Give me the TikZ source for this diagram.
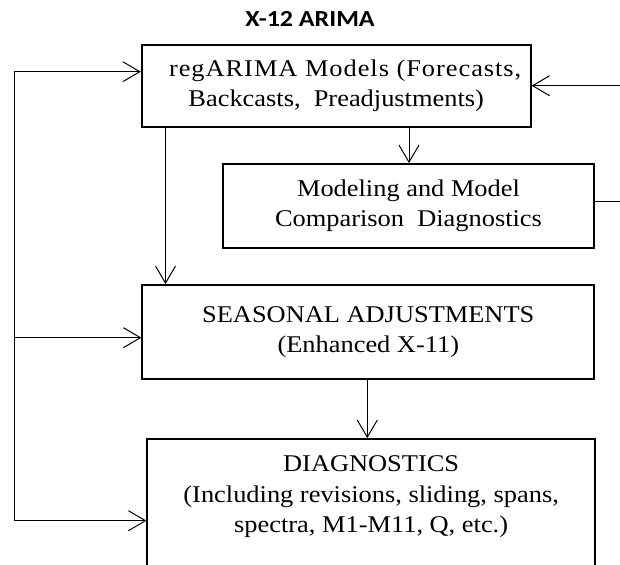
\documentclass[tikz,border=0pt]{standalone}
\usepackage{fontspec}
\setmainfont{Liberation Serif}[FakeStretch=1.1]
\newfontfamily\titlefont{Carlito}[FakeStretch=1.13]
\usetikzlibrary{arrows.meta}
\begin{document}
\begin{tikzpicture}[x=1pt,y=-1pt,
  box/.style={draw, line width=1.8pt, inner sep=0pt, align=center, font=\fontsize{24}{30.5}\selectfont},
  txt/.style={inner sep=0pt, align=center, font=\fontsize{24}{30.5}\selectfont},
  conn/.style={line width=1pt},
  arr/.style={conn, -{Straight Barb[length=17pt,width=20pt]}}]
\useasboundingbox (0,0) rectangle (620,564);
\node[font=\titlefont\bfseries\fontsize{23}{28}\selectfont, anchor=base, inner sep=0pt] (title) at (310,26.7) {X-12 ARIMA};
\node[box, minimum width=389pt, minimum height=81.7pt] (reg) at (336.2,85.85) {\hspace*{18pt}{\addfontfeature{LetterSpace=4}regARIMA Models (Forecasts,}\\Backcasts, \ Preadjustments)};
\node[box, minimum width=371.6pt, minimum height=83.7pt] (mod) at (408.5,205.85) {Modeling and Model\\Comparison \ Diagnostics};
\node[box, minimum width=452pt, minimum height=94pt] (seas) at (368.3,332) {SEASONAL ADJUSTMENTS\\(Enhanced X-11)};
\node[box, minimum width=447.7pt, minimum height=200pt] (diag) at (371.15,539) {};
\node[txt] (diagtext) at (371.15,497) {DIAGNOSTICS\\(Including revisions, sliding, spans,\\spectra, M1-M11, Q, etc.)};
\coordinate (L1) at (14,71.7);
\coordinate (L2) at (14,337.7);
\coordinate (L3) at (14,520.7);
\coordinate (R1) at (620,85.7);
\coordinate (R2) at (620,201.7);
\coordinate (a1) at (409,0);
\coordinate (a2) at (165.5,0);
\coordinate (a3) at (367.3,0);
\draw[arr] (L3) -- (L1) -- (L1 -| reg.west);
\draw[arr] (L2) -- (L2 -| seas.west);
\draw[arr] (L3) -- (L3 -| diag.west);
\draw[arr] (R1) -- (R1 -| reg.east);
\draw[conn] (mod.east |- R2) -- (R2);
\draw[arr] (reg.south -| a1) -- (mod.north -| a1);
\draw[arr] (reg.south -| a2) -- (seas.north -| a2);
\draw[arr] (seas.south -| a3) -- (diag.north -| a3);
\end{tikzpicture}
\end{document}
